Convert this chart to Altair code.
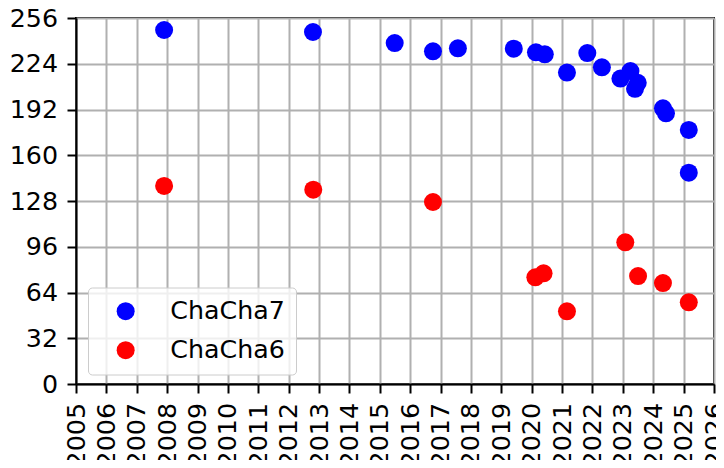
import altair as alt
import pandas as pd

# ChaCha7 (blue)
years7 = [2007.90, 2012.80, 2015.49, 2016.75, 2017.57, 2019.41, 2020.14, 2020.43,
          2021.16, 2021.83, 2022.31, 2022.92, 2023.25, 2023.49, 2023.40, 2024.32,
          2024.42, 2025.17, 2025.17]
bits7 = [247.6, 246.2, 238.5, 232.7, 234.8, 234.5, 232.0, 230.6,
         217.8, 231.5, 221.5, 213.6, 218.9, 210.7, 206.5, 192.8,
         189.3, 177.7, 147.8]

# ChaCha6 (red)
years6 = [2007.90, 2012.81, 2016.75, 2020.12, 2020.39, 2021.16, 2023.08, 2023.50,
          2024.32, 2025.17]
bits6 = [138.5, 135.9, 127.3, 74.6, 77.4, 50.8, 99.1, 75.5, 70.6, 57.1]

series = ["ChaCha7", "ChaCha6"]
colors = ["#0000ff", "#ff0000"]
x_ticks = list(range(2005, 2027))
y_ticks = list(range(0, 257, 32))

df = pd.concat([
    pd.DataFrame({"year": years7, "bits": bits7, "cipher": "ChaCha7"}),
    pd.DataFrame({"year": years6, "bits": bits6, "cipher": "ChaCha6"}),
])

chart = alt.Chart(df).mark_circle(size=324, opacity=1).encode(
    x=alt.X("year:Q",
            scale=alt.Scale(domain=[2005, 2026], nice=False, zero=False),
            axis=alt.Axis(values=x_ticks, format="d", labelAngle=270, title=None,
                          labelFlush=False, labelOverlap=False)),
    y=alt.Y("bits:Q",
            scale=alt.Scale(domain=[0, 256], nice=False),
            axis=alt.Axis(values=y_ticks, title=None, labelFlush=False,
                          labelOverlap=False)),
    color=alt.Color("cipher:N",
                    scale=alt.Scale(domain=series, range=colors),
                    legend=alt.Legend(orient="none", legendX=12, legendY=269.5,
                                      title=None, padding=11, symbolOffset=14,
                                      labelOffset=32, symbolSize=324,
                                      symbolType="circle", symbolStrokeWidth=0,
                                      labelFontSize=25.3, labelFont="DejaVu Sans",
                                      labelColor="black", rowPadding=13,
                                      strokeColor="#cccccc",
                                      fillColor="rgba(255,255,255,0.8)",
                                      cornerRadius=4)),
).properties(
    width=638, height=366,
    autosize=alt.AutoSizeParams(type="none"),
    padding={"left": 68, "top": 10, "right": 2, "bottom": 76},
).configure_axis(
    domainColor="black", domainWidth=2,
    tickColor="black", tickWidth=2, tickSize=9,
    labelPadding=9.5, labelFontSize=25.3, labelFont="DejaVu Sans", labelColor="black",
    gridColor="#b0b0b0", gridWidth=2,
).configure_view(
    stroke="black", strokeWidth=2,
)

chart.save("out.html", embed_options={"renderer": "svg", "actions": False})
